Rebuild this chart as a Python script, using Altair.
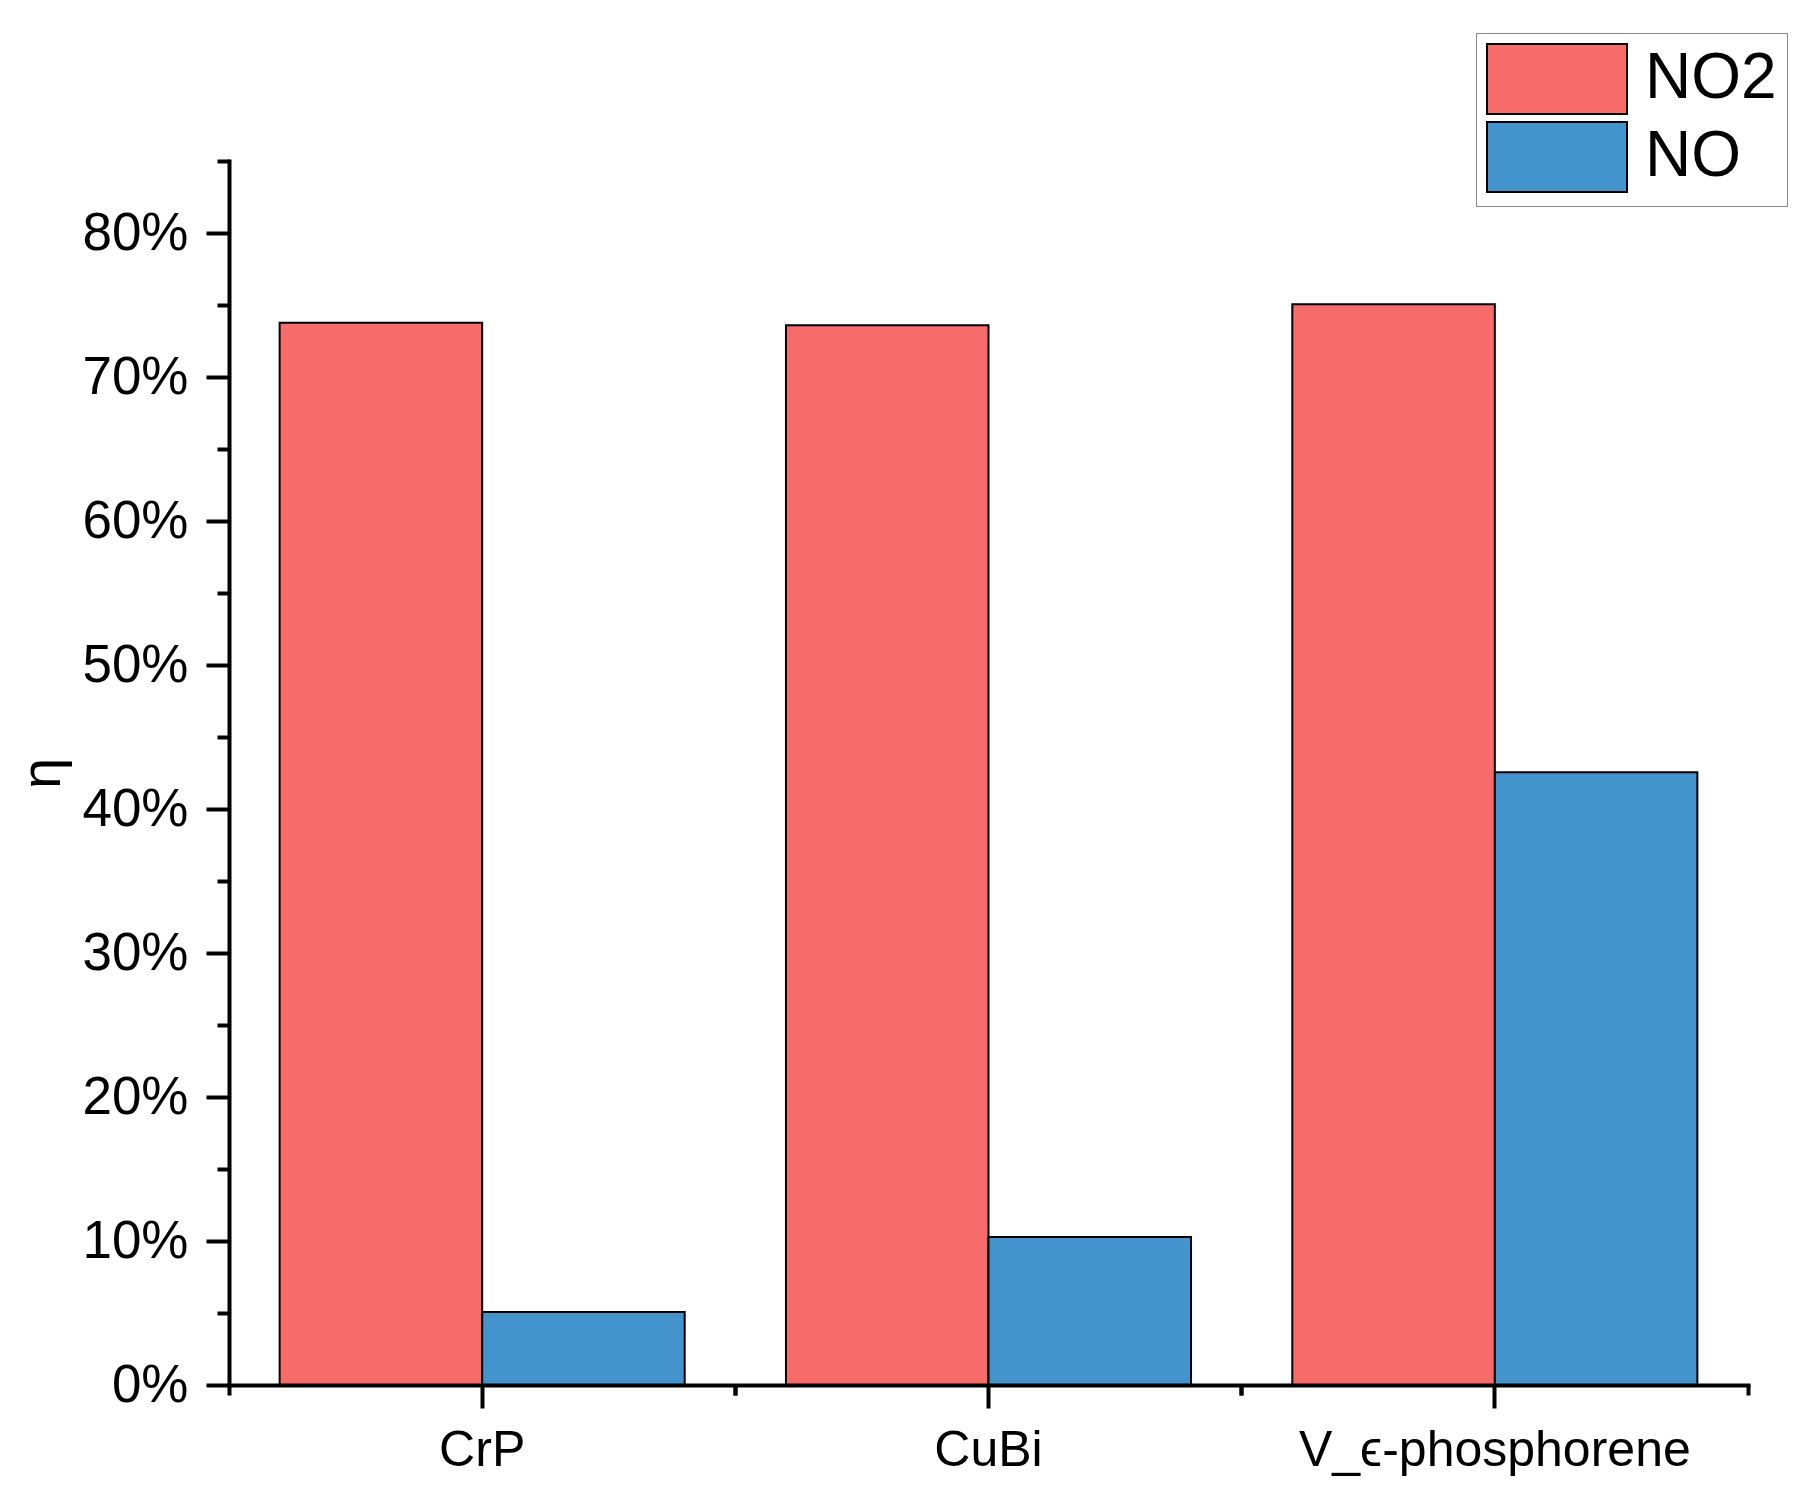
import altair as alt
import pandas as pd

# ---- data ----
categories = ["CrP", "CuBi", "V_ϵ-phosphorene"]
series = ["NO2", "NO"]
no2_values = [0.7377, 0.7360, 0.7505]
no_values = [0.0507, 0.1028, 0.4255]
major_ticks = [0.0, 0.1, 0.2, 0.3, 0.4, 0.5, 0.6, 0.7, 0.8]
minor_ticks = [0.05, 0.15, 0.25, 0.35, 0.45, 0.55, 0.65, 0.75, 0.85]
colors = ["#F76B6B", "#4393CD"]

rows = []
for c, a, b in zip(categories, no2_values, no_values):
    rows.append({"material": c, "gas": "NO2", "eta": a})
    rows.append({"material": c, "gas": "NO", "eta": b})
df = pd.DataFrame(rows)

FONT = "Liberation Sans"
x_scale = alt.Scale(domain=categories, paddingInner=0.2, paddingOuter=0.1)
y_scale = alt.Scale(domain=[0, 0.85], nice=False, zero=True)

bars = alt.Chart(df).mark_bar(stroke="black", strokeWidth=2, opacity=1).encode(
    x=alt.X(
        "material:N", scale=x_scale, sort=categories,
        axis=alt.Axis(
            orient="bottom", title=None, labelAngle=0, labelFontSize=50,
            labelFont=FONT, labelColor="black", labelPadding=17, labelLimit=0,
            tickSize=23, tickWidth=4, tickColor="black", domainWidth=4,
            domainColor="black", grid=False, tickBand="center", zindex=1,
            domainCap="square",
        ),
    ),
    xOffset=alt.XOffset("gas:N", sort=series,
                        scale=alt.Scale(domain=series, paddingInner=0, paddingOuter=0)),
    y=alt.Y(
        "eta:Q", scale=y_scale,
        axis=alt.Axis(
            orient="left", values=major_ticks, format=".0%", title="η",
            titleFont=FONT, titleFontSize=56, titleFontWeight="normal",
            titleColor="black", titleAngle=270, titleBaseline="alphabetic",
            titleAlign="center", titleX=-170, titleY=612,
            labelFontSize=53, labelFont=FONT, labelColor="black",
            labelPadding=18, tickSize=23, tickWidth=4, tickColor="black",
            domainWidth=4, domainColor="black", grid=False, zindex=1,
            domainCap="square",
        ),
    ),
    color=alt.Color(
        "gas:N", scale=alt.Scale(domain=series, range=colors),
        legend=alt.Legend(
            title=None, orient="none", legendX=1247, legendY=-128,
            symbolType="M-1,-1H3V1H-1Z", symbolSize=4900,
            symbolStrokeColor="black", symbolStrokeWidth=2, symbolOpacity=1,
            labelFontSize=64, labelFont=FONT, labelColor="black",
            labelOffset=87, padding=10, strokeColor="#888888",
            fillColor="white", rowPadding=0,
        ),
    ),
)


def minor_layer(band_pos, with_y):
    enc = dict(
        x=alt.X(
            "material:N", scale=x_scale, sort=categories,
            axis=alt.Axis(
                orient="bottom", title=None, labels=False, domain=False,
                bandPosition=band_pos, tickSize=10, tickWidth=4,
                tickColor="black", grid=False, zindex=1,
            ),
        ),
        y=alt.Y(
            "eta:Q", scale=y_scale,
            axis=alt.Axis(
                orient="left", values=minor_ticks, labels=False, domain=False,
                title=None, tickSize=12, tickWidth=4, tickColor="black",
                grid=False, zindex=1,
            ) if with_y else None,
        ),
    )
    return alt.Chart(df).mark_bar(opacity=0).encode(**enc)


chart = (
    alt.layer(minor_layer(-0.125, True), minor_layer(1.125, False), bars)
    .resolve_axis(x="independent", y="independent")
    .properties(
        width=1519, height=1224,
        autosize=alt.AutoSizeParams(type="none"),
        padding={"left": 221, "top": 153, "right": 50, "bottom": 100},
        background="white",
    )
    .configure_view(stroke=None)
)

chart.save("out.html", embed_options={"renderer": "svg", "actions": False})
